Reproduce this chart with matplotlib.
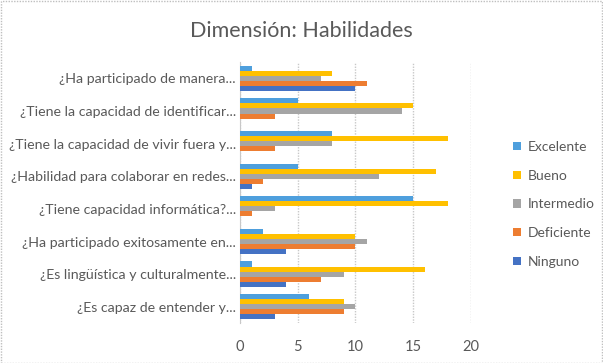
import numpy as np
import matplotlib
matplotlib.use("Agg")
import matplotlib.pyplot as plt
from matplotlib.patches import Rectangle

plt.rcParams['font.family'] = ['Lato', 'DejaVu Sans']

# categories listed top to bottom as in the picture
categories = [
    "¿Ha participado de manera...",
    "¿Tiene la capacidad de identificar...",
    "¿Tiene la capacidad de vivir fuera y...",
    "¿Habilidad para colaborar en redes...",
    "¿Tiene capacidad informática?...",
    "¿Ha participado exitosamente en...",
    "¿Es lingüística y culturalmente...",
    "¿Es capaz de entender y...",
]

excelente = [1, 5, 8, 5, 15, 2, 1, 6]
bueno = [8, 15, 18, 17, 18, 10, 16, 9]
intermedio = [7, 14, 8, 12, 3, 11, 9, 10]
deficiente = [11, 3, 3, 2, 1, 10, 7, 9]
ninguno = [10, 0, 0, 1, 0, 4, 4, 3]

series = ["Excelente", "Bueno", "Intermedio", "Deficiente", "Ninguno"]
values = [excelente, bueno, intermedio, deficiente, ninguno]
colors = ["#4E9FDD", "#FFC000", "#A5A5A5", "#ED7D31", "#4472C4"]

text_color = "#595959"

fig = plt.figure(figsize=(6.03, 3.63), dpi=100)
ax = fig.add_axes([0.398, 0.110, 0.383, 0.719])

n = len(categories)
y = np.arange(n)
h = 0.155
for i, (name, vals, c) in enumerate(zip(series, values, colors)):
    offset = (i - 2) * h
    ax.barh(y + offset, vals, height=h, color=c, label=name, zorder=3)

ax.set_ylim(n - 0.5, -0.5)
ax.set_xlim(0, 20)
ax.set_xticks([0, 5, 10, 15, 20])
ax.set_yticks(y)
ax.set_yticklabels(categories, fontsize=10.2, color=text_color)
ax.tick_params(axis='x', labelsize=10.5, labelcolor=text_color, length=0, pad=12)
ax.tick_params(axis='y', length=0, pad=3)
ax.grid(axis='x', color="#C8C8C8", linestyle=(0, (1, 1)), linewidth=1, zorder=0)
for s in ["top", "right", "bottom"]:
    ax.spines[s].set_visible(False)
ax.spines["left"].set_color("#C8C8C8")
ax.spines["left"].set_linestyle((0, (1, 1)))

fig.text(0.50, 0.915, "Dimensión: Habilidades", ha="center", va="center",
         fontsize=15.5, color=text_color)

leg = ax.legend(loc="center left", bbox_to_anchor=(1.13, 0.455), frameon=False,
                fontsize=10, labelcolor=text_color, handlelength=0.55,
                handleheight=0.55, handletextpad=0.45, labelspacing=1.2)

fig.patches.append(Rectangle((0.001, 0.001), 0.997, 0.997, transform=fig.transFigure,
                             fill=False, edgecolor="#BFBFBF", linewidth=1,
                             linestyle=(0, (1, 1))))

fig.savefig("out.png", dpi=100)
